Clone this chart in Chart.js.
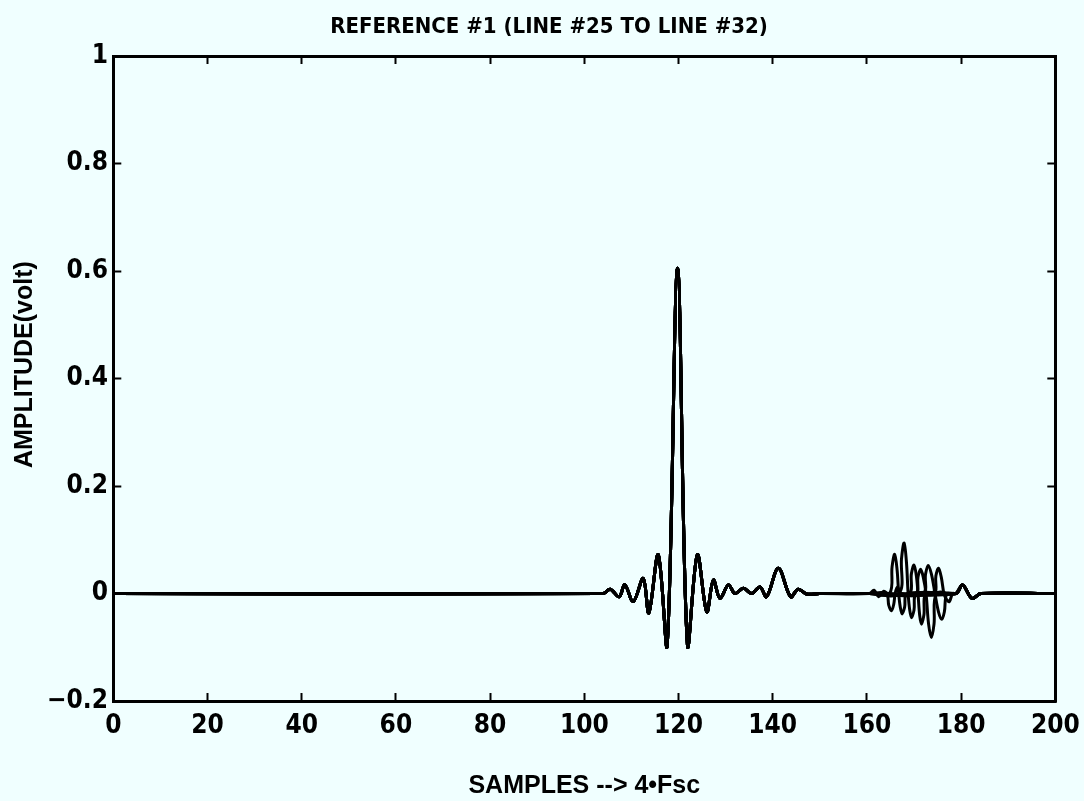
<!DOCTYPE html>
<html>
<head>
<meta charset="utf-8">
<script src="https://cdn.jsdelivr.net/npm/chart.js@4.4.1/dist/chart.umd.min.js"></script>
<style>
  html, body { margin: 0; padding: 0; background: #f0ffff; }
  #wrap { position: relative; width: 1084px; height: 801px; }
</style>
</head>
<body>
<div id="wrap"><canvas id="refChart"></canvas></div>
<script>
// main pulse, the same on every line (they overlap)
var pulseX = [0, 104, 105.5, 107.4, 108.6, 110.4, 112.5, 113.7, 115.7, 117.6, 119.8, 121.9, 124.0, 126.0, 127.4, 128.8, 130.6, 132.0, 133.8, 135.5, 137.3, 138.7, 141.2, 143.8, 145.4, 147.2, 150, 160.5];
var pulseY = [0, 0, 0.008, -0.006, 0.016, -0.015, 0.028, -0.036, 0.072, -0.096, 0.605, -0.096, 0.072, -0.034, 0.025, -0.009, 0.016, 0.0, 0.010, 0.0, 0.012, -0.006, 0.047, -0.006, 0.008, -0.001, 0, 0];

// burst near 165-178, different on each line
var lineNames = ["LINE #25", "LINE #26", "LINE #27", "LINE #28", "LINE #29", "LINE #30", "LINE #31", "LINE #32"];
var burstX = [
  [164.8, 165.35, 165.9, 166.4, 166.75, 167.1, 167.5, 168.0, 168.6],
  [166.8, 167.35, 167.9, 168.4, 168.75, 169.1, 169.5, 170.0, 170.6],
  [168.9, 169.45, 170.0, 170.5, 170.85, 171.2, 171.6, 172.1, 172.7],
  [170.3, 170.85, 171.4, 171.95, 172.55, 173.1, 173.7, 174.25, 174.8],
  [171.9, 172.45, 173.0, 173.7, 174.45, 175.2, 175.9, 176.45, 177.0],
  [174.1, 174.65, 175.2, 175.8, 176.35, 176.9, 177.5, 178.2],
  [164.1, 164.65, 165.2, 165.7, 166.0, 166.5, 167.3],
  [161.5, 162.5, 163.5, 164.5]
];
var burstY = [
  [0, 0.050, 0.073, 0.045, 0, -0.026, -0.038, -0.026, 0],
  [0, 0.065, 0.094, 0.058, 0, -0.031, -0.045, -0.031, 0],
  [0, 0.037, 0.053, 0.033, 0, -0.040, -0.057, -0.040, 0],
  [0, 0.031, 0.045, 0.031, 0, -0.057, -0.082, -0.057, 0],
  [0, 0.036, 0.052, 0.036, 0, -0.034, -0.048, -0.034, 0],
  [0, 0.033, 0.047, 0.030, 0, -0.011, -0.015, 0],
  [0, -0.022, -0.032, -0.020, 0, 0.012, 0],
  [0.006, -0.006, 0.004, 0]
];

// small common ripple after the burst
var tailX = [178.9, 180.3, 182.3, 184.2, 200];
var tailY = [0, 0.016, -0.009, 0, 0];

var xTicks = { min: 0, max: 200, step: 20 };
var yTicks = { min: -0.2, max: 1, step: 0.2 };

function pts(xs, ys) {
  return xs.map(function (x, i) { return { x: x, y: ys[i] }; });
}

var datasets = lineNames.map(function (name, k) {
  return {
    label: name,
    data: pts(pulseX, pulseY).concat(pts(burstX[k], burstY[k]), pts(tailX, tailY)),
    borderColor: "#000",
    borderWidth: 3,
    pointRadius: 0,
    tension: 0.35,
    fill: false
  };
});

var narrow = "'Liberation Sans Narrow', 'DejaVu Sans Condensed', 'Liberation Sans', sans-serif";
var wide = "'Liberation Sans', Arial, sans-serif";

var gridOpts = { drawOnChartArea: false, drawTicks: true, tickLength: -8, tickWidth: 2, tickColor: "#000" };
var borderOpts = { display: true, width: 3, color: "#000" };

function fmt(v) {
  return String(Math.round(v * 10) / 10).replace("-", "\u2212");
}
function noOverhang(s) { s.paddingLeft = 0; s.paddingRight = 0; s.paddingTop = 0; s.paddingBottom = 0; }

new Chart("refChart", {
  type: "line",
  data: { datasets: datasets },
  options: {
    responsive: true,
    maintainAspectRatio: false,
    animation: false,
    layout: { padding: { left: 42.7, right: 28.7, top: 0, bottom: 0 } },
    plugins: {
      legend: { display: false },
      tooltip: { enabled: false },
      title: {
        display: true,
        text: "REFERENCE #1 (LINE #25 TO LINE #32)",
        color: "#000",
        font: { family: narrow, size: 22, weight: "bold", lineHeight: 1.2 },
        padding: { top: 13.8, bottom: 15.8 }
      }
    },
    scales: {
      x: {
        type: "linear",
        position: "bottom",
        min: xTicks.min, max: xTicks.max,
        grid: gridOpts,
        border: borderOpts,
        ticks: {
          stepSize: xTicks.step, color: "#000", padding: 17.5, maxRotation: 0,
          font: { family: narrow, size: 26, weight: "bold" }
        },
        title: {
          display: true, text: "SAMPLES --> 4\u2022Fsc", color: "#000",
          font: { family: wide, size: 25, weight: "bold", lineHeight: 1.2 },
          padding: { top: 0, bottom: 0 }
        },
        afterFit: function (s) { s.height = 100; noOverhang(s); }
      },
      x2: {
        type: "linear",
        position: "top",
        min: xTicks.min, max: xTicks.max,
        grid: gridOpts,
        border: borderOpts,
        ticks: { stepSize: xTicks.step, display: false },
        afterFit: function (s) { s.height = 0; noOverhang(s); }
      },
      y: {
        type: "linear",
        position: "left",
        min: yTicks.min, max: yTicks.max,
        grid: gridOpts,
        border: borderOpts,
        ticks: {
          stepSize: yTicks.step, color: "#000", padding: 13.3, callback: fmt,
          font: { family: narrow, size: 26, weight: "bold" }
        },
        title: {
          display: true, text: "    AMPLITUDE(volt)", color: "#000",
          font: { family: wide, size: 25, weight: "bold", lineHeight: 1.2 },
          padding: { top: -32.7, bottom: 0 }
        },
        afterFit: function (s) { s.width = 70.6; noOverhang(s); }
      },
      y2: {
        type: "linear",
        position: "right",
        min: yTicks.min, max: yTicks.max,
        grid: gridOpts,
        border: borderOpts,
        ticks: { stepSize: yTicks.step, display: false },
        afterFit: function (s) { s.width = 0; noOverhang(s); }
      }
    }
  }
});
</script>
</body>
</html>
